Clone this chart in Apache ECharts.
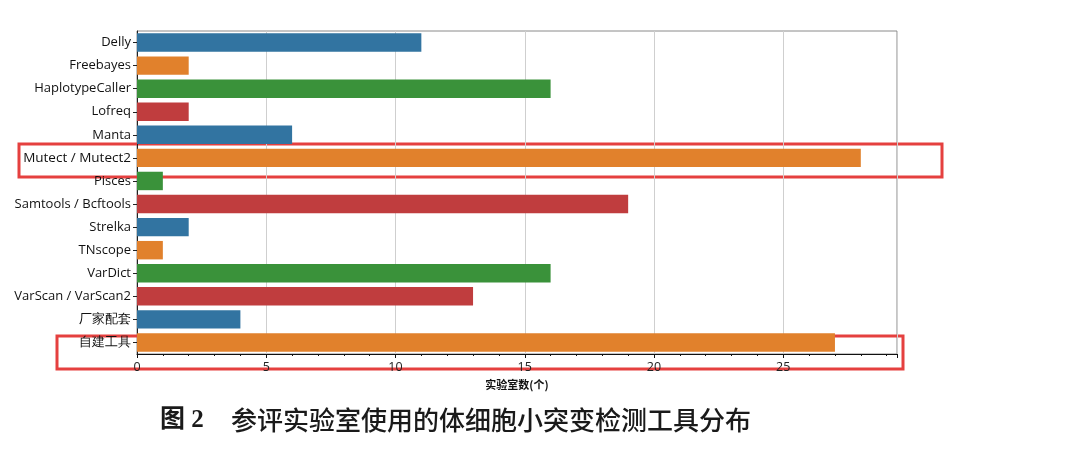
<!DOCTYPE html>
<html lang="zh">
<head>
    <meta charset="UTF-8">
    <script type="text/javascript" src="https://cdn.jsdelivr.net/npm/echarts@6/dist/echarts.min.js"></script>
    <style>
        html, body { margin: 0; padding: 0; background: #fff; }
        #toolChart { width: 1079px; height: 457px; }
    </style>
</head>
<body>
    <div id="toolChart"></div>
</body>
<script>
    // 工具名称
    var toolNames = ["Delly", "Freebayes", "HaplotypeCaller", "Lofreq", "Manta", "Mutect / Mutect2", "Pisces",
        "Samtools / Bcftools", "Strelka", "TNscope", "VarDict", "VarScan / VarScan2", "厂家配套", "自建工具"];
    // 实验室数
    var labCounts = [11, 2, 16, 2, 6, 28, 1, 19, 2, 1, 16, 13, 4, 27];
    // x轴刻度
    var xTicks = [0, 5, 10, 15, 20, 25];
    // seaborn 默认配色
    var barColors = ["#3274a1", "#e1812c", "#3a923a", "#c03d3e"];

    var toolChart = echarts.init(document.getElementById("toolChart"));

    var barData = [];
    for (var i = 0; i < labCounts.length; i++) {
        barData.push({value: labCounts[i], itemStyle: {color: barColors[i % barColors.length]}});
    }

    var option = {
        animation: false,
        grid: {left: 137, top: 31, right: 182, bottom: 103, show: true, borderColor: "#8a8a8a", borderWidth: 1},
        xAxis: {
            type: "value",
            min: 0, max: 29.4, interval: 5,
            name: "实验室数(个)",
            nameLocation: "middle",
            nameGap: 24,
            nameTextStyle: {fontSize: 11, fontWeight: "bold", color: "#111", fontFamily: "Noto Sans CJK SC"},
            axisLine: {show: true, lineStyle: {color: "#111", width: 1}},
            axisTick: {show: true, length: 4, lineStyle: {color: "#111"}},
            minorTick: {show: true, splitNumber: 5, length: 2, lineStyle: {color: "#111"}},
            axisLabel: {
                fontSize: 12.5, color: "#222", fontFamily: "Open Sans", margin: 7,
                customValues: xTicks
            },
            splitLine: {show: true, lineStyle: {color: "#cfcfcf", width: 1}}
        },
        yAxis: {
            type: "category",
            data: toolNames,
            inverse: true,
            axisLine: {show: true, lineStyle: {color: "#222", width: 1}},
            axisTick: {show: true, length: 4, alignWithLabel: true, lineStyle: {color: "#222"}},
            axisLabel: {
                fontSize: 13, color: "#111", fontFamily: "Open Sans", margin: 6,
                formatter: function (v) {
                    return v === "Mutect / Mutect2" ? "{big|" + v + "}" : v;
                },
                rich: {big: {fontSize: 13.5, fontFamily: "Open Sans", color: "#111"}}
            }
        },
        series: [{
            type: "bar",
            data: barData,
            barCategoryGap: "20%"
        }],
        graphic: [
            // 标注框
            {type: "rect", shape: {x: 19, y: 144, width: 923, height: 33},
                style: {fill: "none", stroke: "#e5403f", lineWidth: 3}},
            {type: "rect", shape: {x: 57, y: 336, width: 846, height: 33},
                style: {fill: "none", stroke: "#e5403f", lineWidth: 3}},
            // 图题
            {type: "text", left: 160, top: 408,
                style: {text: "图 2", font: "bold 25px 'Liberation Serif', 'Noto Sans CJK SC'", fill: "#1a1a1a"}},
            {type: "text", left: 231, top: 407,
                style: {text: "参评实验室使用的体细胞小突变检测工具分布", font: "500 26px 'Noto Sans CJK SC'", fill: "#1a1a1a"}}
        ]
    };
    toolChart.setOption(option);
</script>
</html>
